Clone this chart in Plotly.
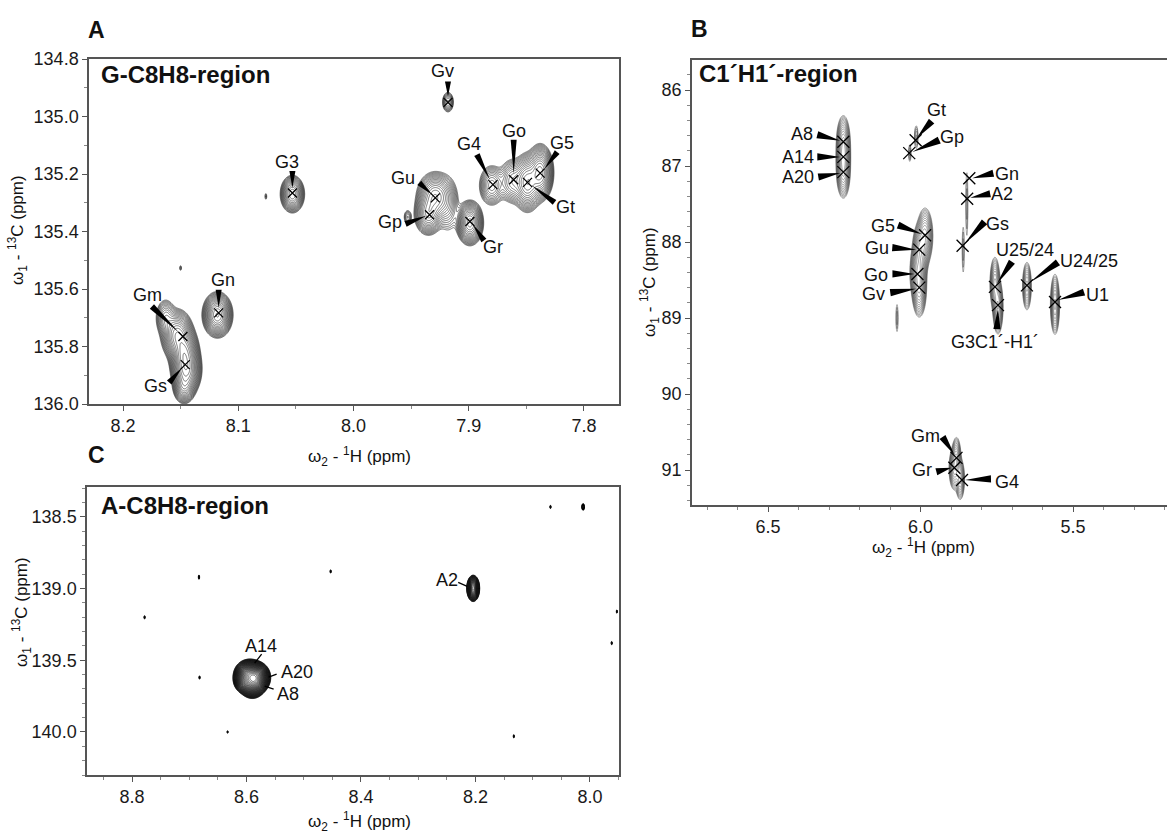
import numpy as np
import plotly.graph_objects as go

FONT = "Arial, 'Liberation Sans', sans-serif"
W, H = 1167, 833

# ---------------- Panel A : G-C8H8 region ----------------
A_lab = ["Gv", "Go", "G5", "G4", "Gt", "Gu", "Gp", "Gr", "G3", "Gn", "Gm", "Gs"]
A_h = [7.918, 7.861, 7.838, 7.879, 7.849, 7.929, 7.934, 7.899, 8.053, 8.117, 8.148, 8.146]
A_c = [134.951, 135.220, 135.197, 135.237, 135.229, 135.283, 135.342, 135.365, 135.266, 135.683, 135.765, 135.863]

# cross-peak model (centre, width, height)
A_pk_h = [7.918, 8.053, 8.118, 8.163, 8.153, 8.147, 8.145, 8.147, 7.929, 7.918, 7.935, 7.953,
          7.899, 7.880, 7.862, 7.849, 7.838, 8.076, 8.150]
A_pk_c = [134.950, 135.270, 135.690, 135.700, 135.760, 135.820, 135.880, 135.940, 135.280, 135.310,
          135.340, 135.350, 135.370, 135.240, 135.225, 135.230, 135.195, 135.278, 135.527]
A_pk_wh = [0.0025, 0.0042, 0.0050, 0.0040, 0.0055, 0.0050, 0.0050, 0.0040, 0.0065, 0.0050, 0.0050,
           0.0020, 0.0045, 0.0050, 0.0055, 0.0050, 0.0045, 0.0008, 0.0008]
A_pk_wc = [0.018, 0.026, 0.030, 0.030, 0.035, 0.035, 0.035, 0.025, 0.035, 0.050, 0.030, 0.015,
           0.030, 0.032, 0.035, 0.040, 0.038, 0.010, 0.008]
A_pk_amp = [6, 25, 40, 8, 30, 35, 40, 15, 25, 4, 20, 3, 35, 10, 10, 30, 35, 1.6, 1.6]

# ---------------- Panel B : C1'H1' region ----------------
B_lab = ["A8", "A14", "A20", "Gt", "Gp", "Gn", "A2", "Gs", "G5", "Gu", "Go", "Gv",
         "U25/24", "U24/25", "U1", "G3C1´-H1´", "Gm", "Gr", "G4"]
B_h = [6.253, 6.253, 6.253, 6.016, 6.037, 5.840, 5.847, 5.862, 5.985, 6.004, 6.010, 6.004,
       5.756, 5.651, 5.559, 5.746, 5.882, 5.889, 5.864]
B_c = [86.68, 86.88, 87.08, 86.66, 86.83, 87.16, 87.43, 88.05, 87.91, 88.10, 88.42, 88.60,
       88.59, 88.57, 88.79, 88.83, 90.84, 90.97, 91.13]

B_pk_h = [6.253, 6.253, 6.253, 6.014, 6.035, 5.848, 5.860, 5.985, 6.000, 6.008, 6.004, 6.077,
          5.756, 5.746, 5.651, 5.559, 5.882, 5.889, 5.870]
B_pk_c = [86.68, 86.88, 87.08, 86.62, 86.83, 87.50, 88.10, 87.92, 88.12, 88.40, 88.62, 89.00,
          88.55, 88.85, 88.58, 88.82, 90.84, 90.98, 91.12]
B_pk_wh = [0.0090, 0.0090, 0.0090, 0.0040, 0.0030, 0.0030, 0.0030, 0.0105, 0.0105, 0.0105, 0.0095,
           0.0030, 0.0070, 0.0070, 0.0065, 0.0065, 0.0065, 0.0075, 0.0065]
B_pk_wc = [0.14, 0.14, 0.14, 0.10, 0.08, 0.35, 0.25, 0.15, 0.15, 0.15, 0.15, 0.15,
           0.15, 0.15, 0.14, 0.17, 0.12, 0.12, 0.12]
B_pk_amp = [20, 25, 20, 3, 2.5, 2, 2, 20, 25, 25, 20, 2, 15, 18, 12, 15, 12, 15, 12]

# ---------------- Panel C : A-C8H8 region ----------------
C_lab = ["A14", "A20", "A8", "A2"]
C_h = [8.591, 8.591, 8.591, 8.204]
C_c = [139.61, 139.61, 139.61, 138.998]

C_pk_h = [8.595, 8.582, 8.590, 8.605, 8.204,
          8.778, 8.683, 8.682, 8.633, 8.453, 8.069, 8.012, 7.953, 7.962, 8.133]
C_pk_c = [139.60, 139.62, 139.66, 139.64, 138.998,
          139.20, 138.92, 139.62, 140.00, 138.88, 138.43, 138.43, 139.16, 139.38, 140.03]
C_pk_wh = [0.0095, 0.0085, 0.0085, 0.007, 0.0042,
           0.0012, 0.0012, 0.0012, 0.0012, 0.0012, 0.0012, 0.0015, 0.0012, 0.0012, 0.0012]
C_pk_wc = [0.038, 0.038, 0.038, 0.034, 0.034,
           0.012, 0.014, 0.012, 0.010, 0.012, 0.012, 0.016, 0.012, 0.012, 0.012]
C_pk_amp = [60, 60, 50, 20, 40, 1.6, 1.8, 1.6, 1.5, 1.6, 1.6, 3.0, 1.6, 1.6, 1.6]

# ---------------- layout geometry (pixels) ----------------
def dom_x(a, b):
    return [a / W, b / W]

def dom_y(top, bot):
    return [1 - bot / H, 1 - top / H]

PANELS = {
    "A": dict(xd=dom_x(89, 619), yd=dom_y(59, 404), xr=[8.2295, 7.7696], yr=[136.0, 134.8]),
    "B": dict(xd=dom_x(692, 1167), yd=dom_y(60, 505), xr=[6.7492, 5.1918], yr=[91.46, 85.605]),
    "C": dict(xd=dom_x(87, 619), yd=dom_y(487, 775), xr=[8.8786, 7.9493], yr=[140.30, 138.291]),
}


def px_per_ppm(p):
    g = PANELS[p]
    return ((g["xd"][1] - g["xd"][0]) * W / abs(g["xr"][0] - g["xr"][1]),
            (g["yd"][1] - g["yd"][0]) * H / abs(g["yr"][0] - g["yr"][1]))


def contour_traces(panel, h, c, wh, wc, amp, ratio, xa, ya, lw, color):
    h, c, wh, wc, amp = map(np.asarray, (h, c, wh, wc, amp))
    n = len(h)
    k = np.sqrt(2 * np.log(np.maximum(amp, 1.01))) + 1.0
    boxes = np.stack([h - k * wh, h + k * wh, c - k * wc, c + k * wc], axis=1)
    parent = list(range(n))

    def find(i):
        while parent[i] != i:
            parent[i] = parent[parent[i]]
            i = parent[i]
        return i
    for i in range(n):
        for j in range(i + 1, n):
            bi, bj = boxes[i], boxes[j]
            if bi[0] < bj[1] and bj[0] < bi[1] and bi[2] < bj[3] and bj[2] < bi[3]:
                parent[find(i)] = find(j)
    groups = {}
    for i in range(n):
        groups.setdefault(find(i), []).append(i)
    sx, sy = px_per_ppm(panel)
    traces = []
    for idx in groups.values():
        b = boxes[idx]
        x0, x1, y0, y1 = b[:, 0].min(), b[:, 1].max(), b[:, 2].min(), b[:, 3].max()
        nx = max(40, int((x1 - x0) * sx / 0.5))
        ny = max(40, int((y1 - y0) * sy / 0.5))
        xs = np.linspace(x0, x1, nx)
        ys = np.linspace(y0, y1, ny)
        X, Y = np.meshgrid(xs, ys)
        S = np.zeros_like(X)
        for i in range(n):
            S += amp[i] * np.exp(-0.5 * (((X - h[i]) / wh[i]) ** 2 + ((Y - c[i]) / wc[i]) ** 2))
        Z = np.maximum(np.log(S + 1e-9), -2.0)
        Z = np.round(Z, 3)
        traces.append(go.Contour(
            x=np.round(xs, 5), y=np.round(ys, 5), z=Z, xaxis=xa, yaxis=ya,
            contours=dict(coloring="none", start=0.0, end=float(np.log(amp.max() * 3)),
                          size=float(np.log(ratio))),
            line=dict(color=color, width=lw), showscale=False, hoverinfo="skip",
            showlegend=False))
    return traces


fig = go.Figure()
for t in contour_traces("A", A_pk_h, A_pk_c, A_pk_wh, A_pk_wc, A_pk_amp, 1.24, "x", "y", 0.6, "#222"):
    fig.add_trace(t)
for t in contour_traces("B", B_pk_h, B_pk_c, B_pk_wh, B_pk_wc, B_pk_amp, 1.3, "x2", "y2", 0.45, "#333"):
    fig.add_trace(t)
for t in contour_traces("C", C_pk_h, C_pk_c, C_pk_wh, C_pk_wc, C_pk_amp, 1.12, "x3", "y3", 0.6, "#111"):
    fig.add_trace(t)

fig.add_trace(go.Scatter(x=A_h, y=A_c, mode="markers", xaxis="x", yaxis="y", hoverinfo="skip",
                         marker=dict(symbol="x-thin", size=9, line=dict(width=1.3, color="black")),
                         showlegend=False))
fig.add_trace(go.Scatter(x=B_h, y=B_c, mode="markers", xaxis="x2", yaxis="y2", hoverinfo="skip",
                         marker=dict(symbol="x-thin", size=12, line=dict(width=1.3, color="black")),
                         showlegend=False))

# label placement: (label dx, dy, wedge base dx, dy, wedge tip dx, dy) in screen px (y down)
A_place = [(-5, -31, 0, -21, 0, -6), (0, -49, 0, -40, 0, -6), (22, -30, 17, -21, 4, -4),
           (-24, -41, -16, -30, -3, -5), (38, 25, 27, 20, 4, 3), (-32, -20, -16, -15, -3, -3),
           (-40, 7, -24, 9, -3, 1), (23, 26, 14, 19, 3, 3), (-5, -31, 0, -22, 0, -5),
           (4, -33, 0, -23, 0, -5), (-35, -41, -31, -30, -4, -4), (-30, 21, -16, 18, -3, 3)]
B_place = [(-41, -8, -26, -7, -3, -1), (-45, 0, -26, 0, -3, 0), (-45, 5, -25, 5, -3, 1),
           (21, -30, 16, -19, 1, -2), (43, -16, 30, -13, 3, -1), (38, -4, 24, -5, 3, 0),
           (35, -5, 23, -5, 3, -1), (35, -22, 22, -24, 2, -2), (-42, -9, -27, -10, -3, -1),
           (-42, -2, -27, -2, -3, 0), (-41, 1, -25, 0, -3, 0), (-46, 6, -29, 5, -3, 1),
           (30, -37, 17, -25, 2, -3), (62, -24, 31, -23, 3, -3), (42, -7, 29, -10, 3, -2),
           (-3, 37, -1, 24, 0, 4), (-31, -22, -14, -21, -2, -3), (-32, 2, -18, 4, -3, 0),
           (45, 2, 29, -1, 3, 0)]
C_place = [(9, -30, 10, -22, 3, -13), (45, -4, 25, -2, 17, 1), (36, 18, 22, 13, 13, 10),
           (-26, -8, -15, -6, -6, -2)]

shapes, annots = [], []
LBL = dict(family=FONT, size=18, color="#111")


def add_labels(labs, hs, cs, place, xr, yr, wedge_half):
    for lab, hh, cc, (lx, ly, bx, by, tx, ty) in zip(labs, hs, cs, place):
        annots.append(dict(x=hh, y=cc, xref=xr, yref=yr, text=lab, showarrow=False,
                           xshift=lx, yshift=-ly, font=LBL, xanchor="center", yanchor="middle"))
        if wedge_half is None:
            shapes.append(dict(type="line", xref=xr, yref=yr, xsizemode="pixel", ysizemode="pixel",
                               xanchor=hh, yanchor=cc, x0=bx, y0=-by, x1=tx, y1=-ty,
                               line=dict(color="black", width=1.3)))
        else:
            dx, dy = tx - bx, ty - by
            L = max(np.hypot(dx, dy), 1e-6)
            nx, ny = -dy / L * wedge_half, dx / L * wedge_half
            p = (f"M {bx + nx:.1f},{-(by + ny):.1f} L {tx:.1f},{-ty:.1f} "
                 f"L {bx - nx:.1f},{-(by - ny):.1f} Z")
            shapes.append(dict(type="path", xref=xr, yref=yr, xsizemode="pixel", ysizemode="pixel",
                               xanchor=hh, yanchor=cc, path=p, fillcolor="black",
                               line=dict(width=0)))


add_labels(A_lab, A_h, A_c, A_place, "x", "y", 3.0)
add_labels(B_lab, B_h, B_c, B_place, "x2", "y2", 3.6)
add_labels(C_lab, C_h, C_c, C_place, "x3", "y3", None)

LC = "#555"


def axis(p, which, dtick, tick0, minor, fmt, anchor, mirror=True):
    g = PANELS[p]
    d = dict(domain=g["xd"] if which == "x" else g["yd"],
             range=g["xr"] if which == "x" else g["yr"],
             dtick=dtick, tick0=tick0, tickformat=fmt, anchor=anchor,
             showline=True, linecolor=LC, linewidth=1.5, mirror=mirror,
             ticks="outside", ticklen=5, tickwidth=1.2, tickcolor=LC,
             tickfont=dict(family=FONT, size=18, color="#1a1a1a"),
             showgrid=False, zeroline=False, automargin=False, fixedrange=True,
             minor=dict(dtick=minor, tick0=tick0, ticks="outside", ticklen=3, tickwidth=1,
                        tickcolor="#888", showgrid=False))
    return d


def paper_text(px, py, text, size, bold=False, angle=0, anchor="center"):
    t = f"<b>{text}</b>" if bold else text
    return dict(x=px / W, y=1 - py / H, xref="paper", yref="paper", text=t, showarrow=False,
                textangle=angle, xanchor=anchor, yanchor="middle",
                font=dict(family=FONT, size=size, color="#111"))


XT = "ω<sub>2</sub> - <sup>1</sup>H (ppm)"
YT = "ω<sub>1</sub> - <sup>13</sup>C (ppm)"
annots += [
    paper_text(96, 30, "A", 23, bold=True),
    paper_text(699, 29, "B", 23, bold=True),
    paper_text(96, 455, "C", 23, bold=True),
    paper_text(99, 74, "G-C8H8-region", 24, bold=True, anchor="left"),
    paper_text(697, 73, "C1´H1´-region", 24, bold=True, anchor="left"),
    paper_text(99, 505, "A-C8H8-region", 24, bold=True, anchor="left"),
    paper_text(359, 456, XT, 17),
    paper_text(923, 547, XT, 17),
    paper_text(359, 821, XT, 17),
    paper_text(17, 230, YT, 17, angle=-90),
    paper_text(649, 282, YT, 17, angle=-90),
    paper_text(21, 612, YT, 17, angle=-90),
]

fig.update_layout(
    width=W, height=H, margin=dict(l=0, r=0, t=0, b=0),
    paper_bgcolor="white", plot_bgcolor="white", showlegend=False,
    xaxis=axis("A", "x", 0.1, 7.8, 0.05, ".1f", "y"),
    yaxis=axis("A", "y", 0.2, 134.8, 0.1, ".1f", "x"),
    xaxis2=axis("B", "x", 0.5, 5.5, 0.1, ".1f", "y2"),
    yaxis2=axis("B", "y", 1, 86, 0.2, "d", "x2", mirror=False),
    xaxis3=axis("C", "x", 0.2, 8.0, 0.05, ".1f", "y3"),
    yaxis3=axis("C", "y", 0.5, 138.5, 0.1, ".1f", "x3"),
    shapes=shapes, annotations=annots,
)

fig.write_html("out.html")
